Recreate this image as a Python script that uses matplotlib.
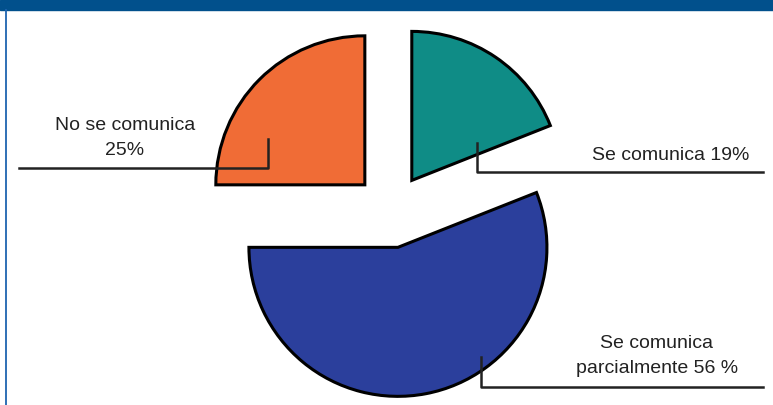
import matplotlib.pyplot as plt

# Datos del gráfico (orden horario desde arriba)
etiquetas = ["Se comunica 19%", "Se comunica\nparcialmente 56 %", "No se comunica\n25%"]
valores = [19, 56, 25]
colores = ["#0f8c86", "#2b3f9c", "#f06c36"]

plt.rcParams["font.family"] = ["Liberation Sans", "DejaVu Sans"]

W, H = 773, 405
fig = plt.figure(figsize=(W / 100, H / 100), dpi=100)
ax = fig.add_axes([0, 0, 1, 1])


def y(v):
    # convertir y de imagen (desde arriba) a y de datos
    return H - v


# Pastel explotado (coordenadas en píxeles)
ax.pie(valores, colors=colores, startangle=90, counterclock=False,
       radius=149, center=(391, y(211)), explode=[37, 37, 37],
       wedgeprops=dict(edgecolor="black", linewidth=2.2), frame=True)
ax.set_xlim(0, W)
ax.set_ylim(0, H)
ax.set_aspect("equal")
ax.axis("off")

# Barra superior y borde izquierdo
ax.add_patch(plt.Rectangle((0, y(10)), W, 10, color="#01508c", zorder=5))
ax.plot([6, 6], [y(10), 0], color="#1f64b0", lw=1.3, zorder=5)

# Etiquetas con líneas guía
lc = "#222222"
fs = 14
ax.plot([19, 268, 268], [y(168), y(168), y(139)], color=lc, lw=1.8, zorder=6)
ax.text(125, y(138), etiquetas[2], ha="center", va="center", fontsize=fs,
        linespacing=1.55, color=lc)

ax.plot([477, 477, 763], [y(143), y(172), y(172)], color=lc, lw=1.8, zorder=6)
ax.text(671, y(155), etiquetas[0], ha="center", va="center", fontsize=fs,
        color=lc)

ax.plot([481, 481, 763], [y(357), y(387), y(387)], color=lc, lw=1.8, zorder=6)
ax.text(657, y(356), etiquetas[1], ha="center", va="center", fontsize=fs,
        linespacing=1.65, color=lc)

fig.savefig("out.png", dpi=100)
